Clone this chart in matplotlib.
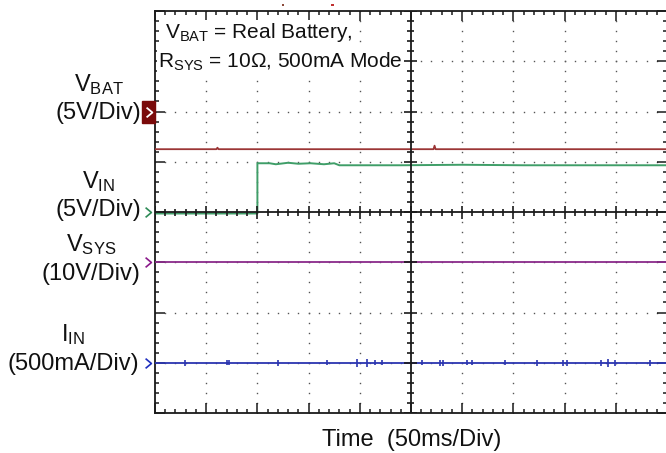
import numpy as np
import matplotlib
matplotlib.use("Agg")
import matplotlib.pyplot as plt
import matplotlib.transforms as mtransforms

plt.rcParams['font.family'] = ['Liberation Sans', 'DejaVu Sans']
plt.rcParams['mathtext.fontset'] = 'custom'
plt.rcParams['mathtext.rm'] = 'Liberation Sans'
plt.rcParams['mathtext.it'] = 'Liberation Sans:italic'
plt.rcParams['mathtext.bf'] = 'Liberation Sans:bold'

# ---------------- data (time in ms, levels in screen divisions) ----------------
channel_labels = [r'V$_{\rm BAT}$', r'V$_{\rm IN}$', r'V$_{\rm SYS}$', r'I$_{\rm IN}$']
channel_scales = ['(5V/Div)', '(5V/Div)', '(10V/Div)', '(500mA/Div)']
channel_colors = ['#9b3535', '#3f9e68', '#8a2a8a', '#2b35b0']
marker_colors = ['#7a0a0a', '#2e8b57', '#8b1a8b', '#1f2fbf']
channel_refs = [2.0, 0.0, -1.0, -3.0]          # ground-reference markers (div)

vbat_t = [0, 60, 61, 62, 150, 272, 273, 274, 500]
vbat_v = [1.25, 1.25, 1.28, 1.25, 1.25, 1.25, 1.32, 1.25, 1.25]

vin_t = [0, 100, 100, 112, 118, 130, 140, 152, 165, 175, 180, 200, 240, 300, 360, 420, 500]
vin_v = [-0.03, -0.03, 0.97, 0.97, 0.95, 0.98, 0.96, 0.97, 0.95, 0.97, 0.93, 0.93, 0.93, 0.94, 0.93, 0.93, 0.93]

vsys_t = [0, 500]
vsys_v = [-1.0, -1.0]

iin_t = [0, 500]
iin_v = [-3.0, -3.0]
iin_glitch_t = [29, 70, 72, 120, 168, 197, 207, 215, 222, 261, 278, 281, 305, 310,
                342, 373, 398, 402, 436, 442, 449, 483]
iin_glitch_d = [0.06, 0.05, 0.05, 0.06, 0.05, 0.08, 0.08, 0.05, 0.05, 0.05, 0.06, 0.06,
                0.05, 0.05, 0.05, 0.06, 0.06, 0.06, 0.06, 0.08, 0.06, 0.06]

trigger_t = [125, 173]
trigger_colors = ['#8b4a3a', '#c03030']

x_label = 'Time  (50ms/Div)'
note_lines = [r'V$_{\rm BAT}$ = Real Battery,', r'R$_{\rm SYS}$ = 10Ω, 500mA Mode']

# ---------------- figure ----------------
W, H = 666, 453
fig = plt.figure(figsize=(W / 100, H / 100), dpi=100)
ax = fig.add_axes([155 / W, 1 - 413 / H, 512 / W, 402 / H])
ax.set_xlim(0, 500)
ax.set_ylim(-4, 4)
px_x = 500 / 512      # data units per pixel (x)
px_y = 8 / 402        # data units per pixel (y)

# border ticks
ax.set_xticks(np.arange(0, 501, 50))
ax.set_xticks(np.arange(0, 501, 10), minor=True)
ax.set_yticks(np.arange(-4, 4.01, 1))
ax.set_yticks(np.arange(-4, 4.01, 0.2), minor=True)
ax.tick_params(which='both', direction='in', top=True, right=True,
               labelbottom=False, labelleft=False, color='#1a1a1a', width=1.1)
ax.tick_params(which='major', length=7)
ax.tick_params(which='minor', length=3)
for s in ax.spines.values():
    s.set_linewidth(1.3)
    s.set_color('#1a1a1a')

# dotted graticule
minor_x = np.arange(0, 501, 10)
minor_y = np.round(np.arange(-4, 4.01, 0.2), 2)
for gx in range(50, 500, 50):
    if gx == 250:
        continue
    ax.plot(np.full(minor_y.size, gx), minor_y, ls='none', marker='s', ms=1.0,
            mfc='#555555', mec='none', zorder=1)
for gy in [-3, -2, -1, 1, 2, 3]:
    ax.plot(minor_x, np.full(minor_x.size, gy), ls='none', marker='s', ms=1.0,
            mfc='#555555', mec='none', zorder=1)

# center crosshair with ticks
ck = dict(color='#1a1a1a', zorder=3.5)
ax.axhline(0, lw=1.3, **ck)
ax.axvline(250, lw=1.3, **ck)
tick_len_x = np.where(minor_x % 50 == 0, 6.5, 3.5) * px_y
ax.vlines(minor_x, -tick_len_x, tick_len_x, lw=1.2, **ck)
is_major_y = np.isclose(minor_y, np.round(minor_y))
tick_len_y = np.where(is_major_y, 6.5, 3.5) * px_x
ax.hlines(minor_y, 250 - tick_len_y, 250 + tick_len_y, lw=1.2, **ck)

# traces
ax.plot(vbat_t, vbat_v, color=channel_colors[0], lw=1.3, zorder=3)
ax.plot(vin_t, vin_v, color=channel_colors[1], lw=1.4, zorder=3)
ax.plot(vsys_t, vsys_v, color=channel_colors[2], lw=1.3, zorder=3)
ax.plot(iin_t, iin_v, color=channel_colors[3], lw=1.3, zorder=3)
ax.vlines(iin_glitch_t, np.array(iin_v[0]) - np.array(iin_glitch_d),
          np.array(iin_v[0]) + np.array(iin_glitch_d), color=channel_colors[3],
          lw=1.2, zorder=3)

# trigger marks above the grid
ax.scatter(trigger_t, [4.12, 4.12], s=4, c=trigger_colors, marker='s',
           clip_on=False, zorder=5, linewidths=0)

# channel reference markers (left of the grid)
trans = mtransforms.blended_transform_factory(ax.transAxes, ax.transData)
chev = [(-0.6, 1.0), (0.6, 0.0), (-0.6, -1.0)]
for i, (ref, mc) in enumerate(zip(channel_refs, marker_colors)):
    if i == 0:
        ax.add_patch(plt.Rectangle((-13 / 512, ref - 11 / 50.25), 13 / 512, 22 / 50.25,
                                   transform=trans, color=mc, clip_on=False, zorder=4))
        ax.plot([-6.5 / 512], [ref], transform=trans, marker=chev, ms=7, mfc='none',
                mec='white', mew=1.3, ls='none', clip_on=False, zorder=5)
    else:
        ax.plot([-7 / 512], [ref], transform=trans, marker=chev, ms=7, mfc='none',
                mec=mc, mew=1.2, ls='none', clip_on=False, zorder=5)

# left labels
label_cx = [98.5, 98.5, 91, 73.5]
label_y1 = [91.5, 188, 251.5, 341.5]
label_y2 = [119, 216, 280, 370]
for lab, sc, cx, y1, y2 in zip(channel_labels, channel_scales, label_cx, label_y1, label_y2):
    fig.text(cx / W, 1 - y1 / H, lab, ha='center', va='baseline', fontsize=17, color='#111111')
    fig.text(cx / W, 1 - y2 / H, sc, ha='center', va='baseline', fontsize=17, color='#111111')

# annotation with white background
fig.text(165 / W, 1 - 38 / H, note_lines[0], ha='left', va='baseline', fontsize=15,
         color='#111111', zorder=2.2,
         bbox=dict(facecolor='white', edgecolor='none', pad=1))
fig.text(158 / W, 1 - 68 / H, note_lines[1], ha='left', va='baseline', fontsize=15,
         color='#111111', zorder=2.2,
         bbox=dict(facecolor='white', edgecolor='none', pad=1))

# x label
fig.text(321.5 / W, 1 - 446 / H, x_label, ha='left', va='baseline', fontsize=17,
         color='#111111')

fig.savefig('out.png', dpi=100)
